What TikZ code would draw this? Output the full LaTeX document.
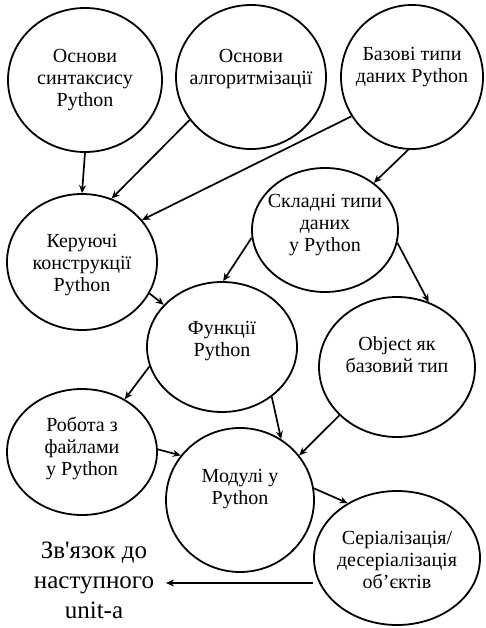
\documentclass[tikz,border=0pt]{standalone}
\usepackage{fontspec}
\setmainfont{Liberation Serif}
\newfontfamily\plainserif{Liberation Serif}[Ligatures=ResetAll]
\usetikzlibrary{shapes.geometric,arrows.meta,calc}
\begin{document}
\begin{tikzpicture}[x=1pt,y=-1pt,
  ell/.style={draw, ellipse, line width=1.8pt, inner sep=0pt},
  txt/.style={align=center, font=\fontsize{20}{22}\selectfont, inner sep=0pt},
  arr/.style={line width=1.7pt, -{Stealth[length=8pt,width=7pt]}}]
\useasboundingbox (0,0) rectangle (486,628);
\fill[white] (0,0) rectangle (486,628);
% ellipses
\node[ell, minimum width=154pt, minimum height=144pt] (syn) at (85,80) {};
\node[ell, minimum width=150pt, minimum height=144pt] (alg) at (251,77) {};
\node[ell, minimum width=142pt, minimum height=144pt] (base) at (412,77) {};
\node[ell, minimum width=150pt, minimum height=136pt] (ctrl) at (82,262) {};
\node[ell, minimum width=146pt, minimum height=124pt] (comp) at (325,230) {};
\node[ell, minimum width=150pt, minimum height=130pt] (func) at (222,347) {};
\node[ell, minimum width=156pt, minimum height=140pt] (obj) at (397,367) {};
\node[ell, minimum width=150pt, minimum height=126pt] (file) at (82,452) {};
\node[ell, minimum width=148pt, minimum height=144pt] (mod) at (240,500) {};
\node[ell, minimum width=166pt, minimum height=134pt] (ser) at (397,558) {};
% texts
\node[txt] (synt) at (85,80) {Основи\\синтаксису\\Python};
\node[txt] (algt) at (251,69) {Основи\\алгоритмізації};
\node[txt] (baset) at (412,67) {Базові типи\\даних Python};
\node[txt] (ctrlt) at (82,265) {Керуючі\\конструкції\\Python};
\node[txt] (compt) at (325,225) {Складні типи\\даних\\у Python};
\node[txt] (funct) at (222,341) {Функції\\Python};
\node[txt] (objt) at (397,355) {Object як\\базовий тип};
\node[txt] (filet) at (82,448) {Робота з\\файлами\\у Python};
\node[txt] (modt) at (240,489) {Модулі у\\Python};
\node[txt] (sert) at (397,560) {Серіалізація/\\десеріалізація\\об’єктів};
\node[align=center, inner sep=0pt, font=\fontsize{25}{30}\selectfont] (next) at (94,580) {Зв{\plainserif\symbol{39}}язок до\\наступного\\unit-a};
\coordinate (nextend) at (166,583);
% arrows
\draw[arr] (syn.-90) -- (ctrl.90);
\draw[arr] (alg.215) -- (ctrl.65);
\draw[arr] (base.213) -- (ctrl.35);
\draw[arr] (base.-93) -- (comp.44);
\draw[arr] (comp.186) -- (func.89);
\draw[arr] (comp.-10) -- (obj.64);
\draw[arr] (ctrl.-25) -- (func.144);
\draw[arr] (func.195) -- (file.51);
\draw[arr] (func.-45) -- (mod.56);
\draw[arr] (obj.220) -- (mod.37);
\draw[arr] (file.2) -- (mod.143);
\draw[arr] (mod.9) -- (ser.132);
\draw[arr] (ser.west |- nextend) -- (nextend);
\end{tikzpicture}
\end{document}
